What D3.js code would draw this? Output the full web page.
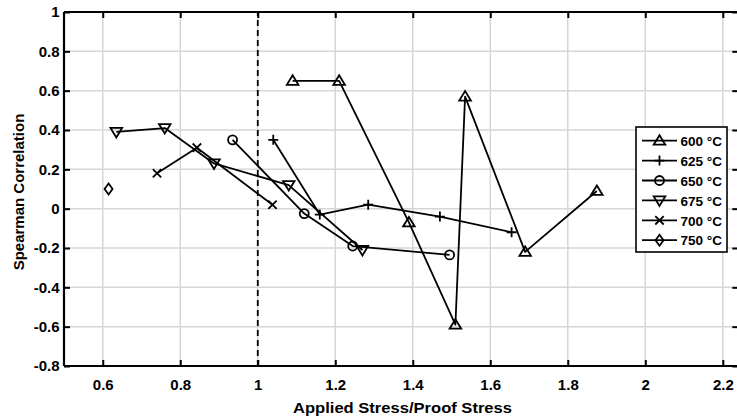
<!DOCTYPE html>
<html>
<head>
<meta charset="utf-8">
<script src="https://cdn.jsdelivr.net/npm/d3@7"></script>
<style>
  html, body { margin: 0; padding: 0; background: #fff; }
  svg { display: block; }
  text { font-family: "Liberation Sans", Arial, Helvetica, sans-serif; font-weight: bold; fill: #000; }
</style>
</head>
<body>
<div id="chart"></div>
<script>
// Spearman correlation versus applied/proof stress ratio, by test temperature
const seriesNames = ["600 °C", "625 °C", "650 °C", "675 °C", "700 °C", "750 °C"];
const seriesMarkers = ["triangleUp", "plus", "circle", "triangleDown", "cross", "diamond"];

const stress600 = [1.09, 1.21, 1.39, 1.51, 1.535, 1.69, 1.875];
const rho600    = [0.65, 0.65, -0.07, -0.59, 0.57, -0.22, 0.09];

const stress625 = [1.04, 1.16, 1.285, 1.47, 1.655];
const rho625    = [0.35, -0.03, 0.02, -0.04, -0.12];

const stress650 = [0.935, 1.12, 1.245, 1.495];
const rho650    = [0.35, -0.025, -0.19, -0.235];

const stress675 = [0.635, 0.76, 0.887, 1.08, 1.27];
const rho675    = [0.39, 0.41, 0.23, 0.12, -0.21];

const stress700 = [0.74, 0.843, 1.038];
const rho700    = [0.18, 0.31, 0.02];

const stress750 = [0.615];
const rho750    = [0.1];

const xTicks = [0.6, 0.8, 1, 1.2, 1.4, 1.6, 1.8, 2, 2.2];
const yTicks = [-0.8, -0.6, -0.4, -0.2, 0, 0.2, 0.4, 0.6, 0.8, 1];
const xTickLabels = ["0.6", "0.8", "1", "1.2", "1.4", "1.6", "1.8", "2", "2.2"];
const yTickLabels = ["-0.8", "-0.6", "-0.4", "-0.2", "0", "0.2", "0.4", "0.6", "0.8", "1"];
const proofStressRatio = 1;

const seriesX = [stress600, stress625, stress650, stress675, stress700, stress750];
const seriesY = [rho600, rho625, rho650, rho675, rho700, rho750];
const series = seriesNames.map((name, i) => ({
  name,
  marker: seriesMarkers[i],
  points: seriesX[i].map((x, j) => ({ x, y: seriesY[i][j] }))
}));

const W = 737, H = 419;
const margin = { left: 64, top: 12, right: -1.3, bottom: 53 };

const svg = d3.select("#chart").append("svg")
  .attr("width", W).attr("height", H);

const x = d3.scaleLinear().domain([0.5, 2.24]).range([margin.left, W - margin.right]);
const y = d3.scaleLinear().domain([-0.8, 1]).range([H - margin.bottom, margin.top]);

const x0 = x.range()[0], x1 = x.range()[1];
const y0 = y.range()[0], y1 = y.range()[1];

// grid
const grid = svg.append("g").attr("stroke", "#d6d6d6").attr("stroke-width", 1.5);
grid.selectAll("line.gx").data(xTicks).join("line")
  .attr("x1", d => x(d)).attr("x2", d => x(d)).attr("y1", y0).attr("y2", y1);
grid.selectAll("line.gy").data(yTicks).join("line")
  .attr("x1", x0).attr("x2", x1).attr("y1", d => y(d)).attr("y2", d => y(d));

// proof stress reference line
svg.append("line")
  .attr("x1", x(proofStressRatio)).attr("x2", x(proofStressRatio))
  .attr("y1", y0).attr("y2", y1)
  .attr("stroke", "#000").attr("stroke-width", 1.8)
  .attr("stroke-dasharray", "6,4");

// axes with inward ticks on all four sides
const tickLen = 6;
const axisBottom = d3.axisBottom(x).tickValues(xTicks).tickSize(-tickLen).tickPadding(13.5)
  .tickFormat((d, i) => xTickLabels[i]);
const axisTop = d3.axisTop(x).tickValues(xTicks).tickSize(-tickLen).tickFormat("");
const axisLeft = d3.axisLeft(y).tickValues(yTicks).tickSize(-tickLen).tickPadding(4.5)
  .tickFormat((d, i) => yTickLabels[i]);
const axisRight = d3.axisRight(y).tickValues(yTicks).tickSize(-tickLen).tickFormat("");

function styleAxis(g) {
  g.select(".domain").attr("stroke", "#000").attr("stroke-width", 2.2);
  g.selectAll(".tick line").attr("stroke", "#000").attr("stroke-width", 2);
  g.selectAll(".tick text").attr("font-size", 15).attr("font-family", null).attr("fill", "#000");
}

svg.append("g").attr("transform", `translate(0,${y0})`).call(axisBottom).call(styleAxis)
  .call(g => g.select(".domain").attr("d", `M${x0},0H${x1}`));
svg.append("g").attr("transform", `translate(0,${y1})`).call(axisTop).call(styleAxis)
  .call(g => g.select(".domain").attr("d", `M${x0},0H${x1}`));
svg.append("g").attr("transform", `translate(${x0},0)`).call(axisLeft).call(styleAxis)
  .call(g => g.select(".domain").attr("d", `M0,${y0}V${y1}`));
svg.append("g").attr("transform", `translate(${x1},0)`).call(axisRight).call(styleAxis)
  .call(g => g.select(".domain").attr("d", `M0,${y0}V${y1}`));

// axis titles
svg.append("text")
  .attr("x", 402.5).attr("y", 412.5)
  .attr("text-anchor", "middle").attr("font-size", 15)
  .attr("textLength", 219).attr("lengthAdjust", "spacingAndGlyphs")
  .text("Applied Stress/Proof Stress");
svg.append("text")
  .attr("transform", `translate(23.5,${(y0 + y1) / 2 + 3}) rotate(-90)`)
  .attr("text-anchor", "middle").attr("font-size", 15)
  .text("Spearman Correlation");

// marker outlines
function markerPath(type) {
  switch (type) {
    case "triangleUp":   return "M0,-5.5L5.8,4L-5.8,4Z";
    case "triangleDown": return "M0,5.5L5.8,-4L-5.8,-4Z";
    case "circle":       return d3.symbol(d3.symbolCircle, 64)();
    case "plus":         return "M-5,0H5M0,-5V5";
    case "cross":        return "M-4.2,-4.2L4.2,4.2M-4.2,4.2L4.2,-4.2";
    case "diamond":      return "M0,-5.5L4,0L0,5.5L-4,0Z";
  }
}

const line = d3.line().x(d => x(d.x)).y(d => y(d.y));

const plot = svg.append("g");
series.forEach(s => {
  plot.append("path")
    .datum(s.points)
    .attr("d", line)
    .attr("fill", "none").attr("stroke", "#000").attr("stroke-width", 1.8)
    .attr("stroke-linejoin", "round");
  plot.selectAll(null).data(s.points).join("path")
    .attr("transform", d => `translate(${x(d.x)},${y(d.y)})`)
    .attr("d", markerPath(s.marker))
    .attr("fill", "none").attr("stroke", "#000").attr("stroke-width", 1.8);
});

// legend
const legend = svg.append("g").attr("transform", "translate(636,127)");
legend.append("rect")
  .attr("width", 91).attr("height", 125)
  .attr("fill", "#fff").attr("stroke", "#000").attr("stroke-width", 1.6);
series.forEach((s, i) => {
  const row = legend.append("g").attr("transform", `translate(0,${13.7 + i * 19.9})`);
  row.append("line").attr("x1", 6).attr("x2", 41).attr("y1", 0).attr("y2", 0)
    .attr("stroke", "#000").attr("stroke-width", 1.8);
  row.append("path").attr("transform", "translate(23.5,0)")
    .attr("d", markerPath(s.marker))
    .attr("fill", "none").attr("stroke", "#000").attr("stroke-width", 1.8);
  row.append("text").attr("x", 44.5).attr("y", 5.2).attr("font-size", 13.5)
    .text(s.name);
});
</script>
</body>
</html>
